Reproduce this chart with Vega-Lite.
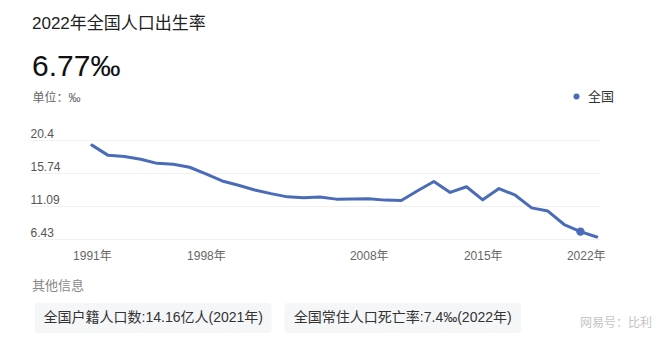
{
  "$schema": "https://vega.github.io/schema/vega-lite/v6.json",
  "background": "white",
  "padding": {"top": 15, "left": 30, "right": 0, "bottom": 0},
  "config": {
    "font": "Liberation Sans, 'Noto Sans CJK SC', sans-serif",
    "view": {"stroke": null}
  },
  "spacing": 18,
  "vconcat": [
    {
      "width": 570,
      "height": 99.4,
      "title": {
        "text": "2022年全国人口出生率",
        "subtitle": "6.77‰",
        "anchor": "start",
        "frame": "group",
        "dx": 2,
        "offset": 8,
        "fontSize": 17,
        "fontWeight": "normal",
        "color": "#222222",
        "subtitleFontSize": 30,
        "subtitleColor": "#111111",
        "subtitlePadding": 19
      },
      "data": {
        "values": [
          {"year": 1991, "value": 19.68, "region": "全国"},
          {"year": 1992, "value": 18.24, "region": "全国"},
          {"year": 1993, "value": 18.09, "region": "全国"},
          {"year": 1994, "value": 17.70, "region": "全国"},
          {"year": 1995, "value": 17.12, "region": "全国"},
          {"year": 1996, "value": 16.98, "region": "全国"},
          {"year": 1997, "value": 16.57, "region": "全国"},
          {"year": 1998, "value": 15.64, "region": "全国"},
          {"year": 1999, "value": 14.64, "region": "全国"},
          {"year": 2000, "value": 14.03, "region": "全国"},
          {"year": 2001, "value": 13.38, "region": "全国"},
          {"year": 2002, "value": 12.86, "region": "全国"},
          {"year": 2003, "value": 12.41, "region": "全国"},
          {"year": 2004, "value": 12.29, "region": "全国"},
          {"year": 2005, "value": 12.40, "region": "全国"},
          {"year": 2006, "value": 12.09, "region": "全国"},
          {"year": 2007, "value": 12.10, "region": "全国"},
          {"year": 2008, "value": 12.14, "region": "全国"},
          {"year": 2009, "value": 11.95, "region": "全国"},
          {"year": 2010, "value": 11.90, "region": "全国"},
          {"year": 2011, "value": 13.27, "region": "全国"},
          {"year": 2012, "value": 14.57, "region": "全国"},
          {"year": 2013, "value": 13.03, "region": "全国"},
          {"year": 2014, "value": 13.83, "region": "全国"},
          {"year": 2015, "value": 11.99, "region": "全国"},
          {"year": 2016, "value": 13.57, "region": "全国"},
          {"year": 2017, "value": 12.64, "region": "全国"},
          {"year": 2018, "value": 10.86, "region": "全国"},
          {"year": 2019, "value": 10.41, "region": "全国"},
          {"year": 2020, "value": 8.52, "region": "全国"},
          {"year": 2021, "value": 7.52, "region": "全国"},
          {"year": 2022, "value": 6.77, "region": "全国"}
        ]
      },
      "encoding": {
        "x": {
          "field": "year",
          "type": "quantitative",
          "scale": {"domain": [1987.2, 2022.2], "nice": false, "zero": false},
          "axis": {
            "title": null,
            "values": [1991, 1998, 2008, 2015, 2022],
            "labelExpr": "datum.value + '年'",
            "grid": false,
            "domain": false,
            "ticks": false,
            "tickSize": 0,
            "labelPadding": 11,
            "labelFontSize": 12,
            "labelColor": "#666666",
            "labelOffset": {"condition": {"test": "datum.value == 2022", "value": -11}, "value": 0}
          }
        },
        "y": {
          "field": "value",
          "type": "quantitative",
          "scale": {"domain": [6.43, 20.4], "nice": false, "zero": false},
          "axis": {
            "values": [6.43, 11.09, 15.74, 20.4],
            "labelExpr": "'' + datum.value",
            "labelAlign": "left",
            "labelBaseline": "bottom",
            "labelPadding": 0,
            "ticks": false,
            "tickSize": 0,
            "domain": false,
            "gridColor": "#f1f1f1",
            "gridWidth": 1,
            "labelColor": "#555555",
            "labelFontSize": 12,
            "title": "单位：‰",
            "titleAngle": 0,
            "titleAlign": "left",
            "titleBaseline": "middle",
            "titleX": 2,
            "titleY": -43,
            "titleFontSize": 12,
            "titleFontWeight": "normal",
            "titleColor": "#666666"
          }
        }
      },
      "layer": [
        {
          "mark": {"type": "line", "color": "#4a6cb8", "strokeWidth": 3, "strokeJoin": "round", "strokeCap": "round"}
        },
        {
          "transform": [{"filter": "datum.year == 2021"}],
          "mark": {"type": "point", "filled": true, "size": 70, "opacity": 1},
          "encoding": {
            "color": {
              "field": "region",
              "type": "nominal",
              "scale": {"domain": ["全国"], "range": ["#4a6cb8"]},
              "legend": {
                "title": null,
                "orient": "none",
                "legendX": 540,
                "legendY": -50,
                "padding": 0,
                "symbolType": "circle",
                "symbolSize": 36,
                "labelFontSize": 13,
                "labelColor": "#333333",
                "labelOffset": 5
              }
            }
          }
        }
      ]
    },
    {
      "width": 496,
      "height": 30,
      "title": {
        "text": "其他信息",
        "anchor": "start",
        "frame": "group",
        "dx": 2,
        "offset": 10,
        "fontSize": 13,
        "fontWeight": "normal",
        "color": "#888888"
      },
      "data": {
        "values": [
          {"key": "a", "label": "全国户籍人口数:14.16亿人(2021年)"},
          {"key": "b", "label": "全国常住人口死亡率:7.4‰(2022年)"}
        ]
      },
      "layer": [
        {
          "mark": {"type": "rect", "color": "#f5f6f8", "cornerRadius": 3},
          "encoding": {
            "x": {
              "field": "label",
              "type": "nominal",
              "sort": null,
              "scale": {"paddingInner": 0.052, "paddingOuter": 0.02},
              "axis": null
            }
          }
        },
        {
          "mark": {"type": "text", "fontSize": 14, "color": "#333333"},
          "encoding": {
            "x": {"field": "label", "type": "nominal", "sort": null, "axis": null},
            "text": {"field": "label"}
          }
        },
        {
          "transform": [{"filter": "datum.key == 'b'"}],
          "mark": {"type": "text", "text": "网易号：比利", "align": "right", "dx": 131, "dy": 5, "fontSize": 12, "color": "#c4c4c4"},
          "encoding": {
            "x": {"field": "label", "type": "nominal", "sort": null, "axis": null, "bandPosition": 1}
          }
        }
      ]
    }
  ]
}
